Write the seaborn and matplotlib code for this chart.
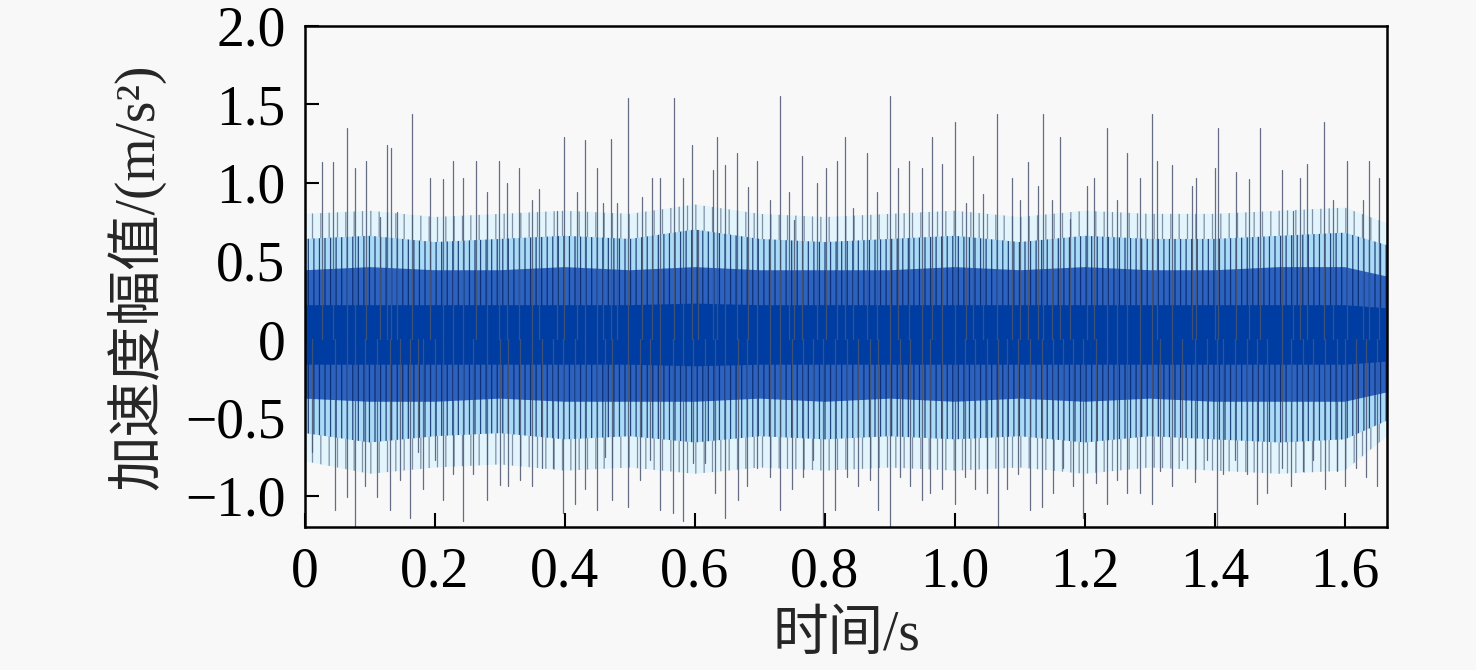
import numpy as np
import pandas as pd
import seaborn as sns
import matplotlib.pyplot as plt

# tall positive spikes (time in s, amplitude in m/s^2)
up_t = [0.026, 0.043, 0.065, 0.077, 0.094, 0.115, 0.126, 0.132, 0.142, 0.165, 0.192, 0.212,
        0.228, 0.243, 0.263, 0.280, 0.298, 0.311, 0.329, 0.349, 0.360, 0.388, 0.398, 0.418,
        0.431, 0.449, 0.458, 0.471, 0.480, 0.497, 0.518, 0.534, 0.546, 0.568, 0.582, 0.595,
        0.605, 0.628, 0.634, 0.646, 0.665, 0.682, 0.695, 0.715, 0.731, 0.745, 0.752, 0.765,
        0.788, 0.802, 0.818, 0.831, 0.843, 0.865, 0.880, 0.900, 0.912, 0.929, 0.949, 0.965,
        0.980, 1.000, 1.017, 1.028, 1.043, 1.065, 1.088, 1.100, 1.112, 1.128, 1.135, 1.149,
        1.162, 1.177, 1.203, 1.214, 1.234, 1.249, 1.265, 1.285, 1.303, 1.311, 1.334, 1.365,
        1.371, 1.400, 1.405, 1.432, 1.452, 1.469, 1.503, 1.520, 1.531, 1.542, 1.568, 1.582,
        1.603, 1.628, 1.638, 1.652]
up_v = [1.13, 1.13, 1.35, 1.09, 1.14, 0.78, 1.24, 1.22, 0.81, 1.44, 1.03, 1.02,
        1.14, 1.03, 1.14, 0.94, 1.14, 1.00, 1.09, 0.89, 0.96, 0.82, 1.29, 0.94,
        1.27, 1.09, 0.87, 1.28, 0.87, 1.54, 0.91, 1.03, 1.03, 1.54, 1.03, 1.24,
        0.70, 1.08, 1.29, 1.11, 1.19, 0.97, 1.14, 0.89, 1.55, 0.94, 0.76, 1.17,
        1.00, 1.09, 1.14, 1.29, 0.84, 1.19, 0.94, 1.55, 1.09, 1.14, 1.09, 1.29,
        1.12, 1.39, 0.87, 1.17, 0.93, 1.44, 1.03, 0.89, 1.13, 0.98, 1.44, 0.89,
        1.29, 0.77, 0.98, 1.03, 1.35, 0.89, 1.19, 1.03, 1.44, 1.14, 1.11, 0.98,
        1.03, 1.09, 1.35, 1.07, 1.02, 1.35, 1.08, 0.82, 1.03, 1.12, 1.39, 0.89,
        1.14, 0.89, 1.14, 1.03]

# deep negative spikes
down_t = [0.011, 0.046, 0.065, 0.077, 0.092, 0.111, 0.131, 0.146, 0.162, 0.174, 0.182, 0.200,
          0.212, 0.228, 0.243, 0.258, 0.280, 0.300, 0.312, 0.331, 0.349, 0.365, 0.382, 0.397,
          0.415, 0.431, 0.449, 0.462, 0.472, 0.497, 0.515, 0.531, 0.546, 0.566, 0.582, 0.597,
          0.615, 0.631, 0.646, 0.666, 0.680, 0.695, 0.715, 0.731, 0.749, 0.766, 0.782, 0.797,
          0.815, 0.834, 0.851, 0.869, 0.882, 0.900, 0.915, 0.931, 0.949, 0.962, 0.980, 1.000,
          1.015, 1.031, 1.049, 1.066, 1.080, 1.097, 1.115, 1.134, 1.151, 1.166, 1.182, 1.197,
          1.218, 1.234, 1.249, 1.265, 1.285, 1.303, 1.315, 1.334, 1.349, 1.369, 1.388, 1.403,
          1.412, 1.431, 1.449, 1.465, 1.480, 1.503, 1.518, 1.535, 1.551, 1.569, 1.588, 1.600,
          1.617, 1.632, 1.649]
down_v = [-0.72, -1.09, -1.01, -1.20, -0.94, -1.01, -1.09, -0.90, -1.14, -0.72, -0.96, -0.77,
          -1.03, -0.86, -1.16, -0.86, -1.03, -0.93, -0.94, -0.90, -0.94, -0.82, -0.82, -1.11,
          -1.05, -0.96, -1.09, -0.75, -1.03, -1.07, -0.90, -0.77, -1.09, -1.11, -1.16, -0.79,
          -0.79, -0.98, -1.14, -1.03, -0.94, -0.82, -0.88, -1.09, -0.96, -0.88, -0.77, -1.20,
          -1.09, -0.88, -0.94, -0.90, -1.09, -1.20, -0.88, -0.94, -1.03, -0.98, -0.96, -1.05,
          -0.88, -0.96, -0.98, -1.20, -0.96, -0.86, -1.09, -1.07, -0.98, -0.82, -0.94, -1.14,
          -0.92, -1.05, -0.90, -0.98, -0.98, -1.05, -0.84, -0.94, -0.77, -0.91, -0.77, -1.20,
          -0.86, -0.77, -0.86, -1.05, -0.98, -0.82, -0.94, -0.84, -0.77, -0.96, -0.84, -0.94,
          -0.82, -0.88, -0.94]

# envelope of the dense part of the signal, read every 0.1 s
env_t = [0, 0.1, 0.2, 0.3, 0.4, 0.5, 0.6, 0.7, 0.8, 0.9, 1.0, 1.1, 1.2, 1.3, 1.4, 1.5, 1.6, 1.665]
outer_hi = [0.80, 0.82, 0.78, 0.80, 0.82, 0.80, 0.86, 0.80, 0.78, 0.80, 0.82, 0.78, 0.82, 0.80, 0.80, 0.82, 0.84, 0.74]
outer_lo = [-0.78, -0.86, -0.82, -0.80, -0.84, -0.82, -0.86, -0.82, -0.84, -0.82, -0.84, -0.82, -0.86, -0.82, -0.84, -0.86, -0.84, -0.62]
light_hi = [0.64, 0.66, 0.62, 0.64, 0.66, 0.64, 0.70, 0.64, 0.62, 0.64, 0.66, 0.62, 0.66, 0.64, 0.64, 0.66, 0.68, 0.60]
light_lo = [-0.60, -0.66, -0.62, -0.60, -0.64, -0.62, -0.66, -0.62, -0.64, -0.62, -0.64, -0.62, -0.66, -0.62, -0.64, -0.66, -0.64, -0.52]
mid_hi = [0.44, 0.46, 0.44, 0.44, 0.46, 0.44, 0.46, 0.44, 0.44, 0.44, 0.46, 0.44, 0.46, 0.44, 0.44, 0.46, 0.46, 0.40]
mid_lo = [-0.38, -0.40, -0.40, -0.38, -0.40, -0.40, -0.40, -0.38, -0.40, -0.38, -0.40, -0.38, -0.40, -0.38, -0.40, -0.40, -0.40, -0.34]
core_hi = [0.22, 0.22, 0.22, 0.22, 0.22, 0.22, 0.23, 0.22, 0.22, 0.22, 0.22, 0.22, 0.22, 0.22, 0.22, 0.22, 0.22, 0.20]
core_lo = [-0.16, -0.16, -0.16, -0.16, -0.16, -0.16, -0.17, -0.16, -0.16, -0.16, -0.16, -0.16, -0.16, -0.16, -0.16, -0.16, -0.16, -0.14]

x_ticks = [0, 0.2, 0.4, 0.6, 0.8, 1.0, 1.2, 1.4, 1.6]
x_labels = ['0', '0.2', '0.4', '0.6', '0.8', '1.0', '1.2', '1.4', '1.6']
y_ticks = [-1.0, -0.5, 0, 0.5, 1.0, 1.5, 2.0]
y_labels = ['\u22121.0', '\u22120.5', '0', '0.5', '1.0', '1.5', '2.0']

sns.set_theme(style='ticks')
plt.rcParams['font.family'] = ['Liberation Serif', 'Noto Sans CJK SC']
plt.rcParams['hatch.linewidth'] = 0.9

# long-form table: each spike is a two-point segment from 0 to its peak
rows = []
for i, (t, v) in enumerate(zip(up_t + down_t, up_v + down_v)):
    rows.append({'t': t, 'v': 0.0, 'id': i})
    rows.append({'t': t, 'v': v, 'id': i})
spikes = pd.DataFrame(rows)

fig = plt.figure(figsize=(14.76, 6.70), dpi=100, facecolor='#f8f8f8')
ax = fig.add_axes([0.2066, 0.2134, 0.7331, 0.7478])
ax.set_facecolor('#f8f8f8')

# the dense trace is drawn as nested bands; vertical hatching gives it the line texture
ax.fill_between(env_t, outer_lo, outer_hi, facecolor='#e2f4fc', edgecolor='#8290a6',
                hatch='||', lw=0)
ax.fill_between(env_t, light_lo, light_hi, facecolor='#a9daf6', edgecolor='#24457e',
                hatch='|||', lw=0)
ax.fill_between(env_t, mid_lo, mid_hi, facecolor='#2c62c0', edgecolor='#0b2f78',
                hatch='|||', lw=0)
sns.lineplot(data=spikes, x='t', y='v', units='id', estimator=None, sort=False,
             color='#4a5570', lw=0.9, alpha=0.85, ax=ax)
ax.fill_between(env_t, core_lo, core_hi, color='#003da2', lw=0)

ax.set_xlim(0, 1.665)
ax.set_ylim(-1.2, 2.0)
ax.set_xticks(x_ticks, x_labels)
ax.set_yticks(y_ticks, y_labels)
ax.tick_params(direction='in', length=10, width=1.5, labelsize=40, pad=14,
               colors='black', top=False, right=False)
for s in ax.spines.values():
    s.set_color('black')
    s.set_linewidth(1.8)

ax.set_xlabel('时间/s', fontsize=40, labelpad=8)
ax.set_ylabel('加速度幅值/(m/s²)', fontsize=40, labelpad=14)

fig.savefig('out.png', dpi=100, facecolor=fig.get_facecolor())
